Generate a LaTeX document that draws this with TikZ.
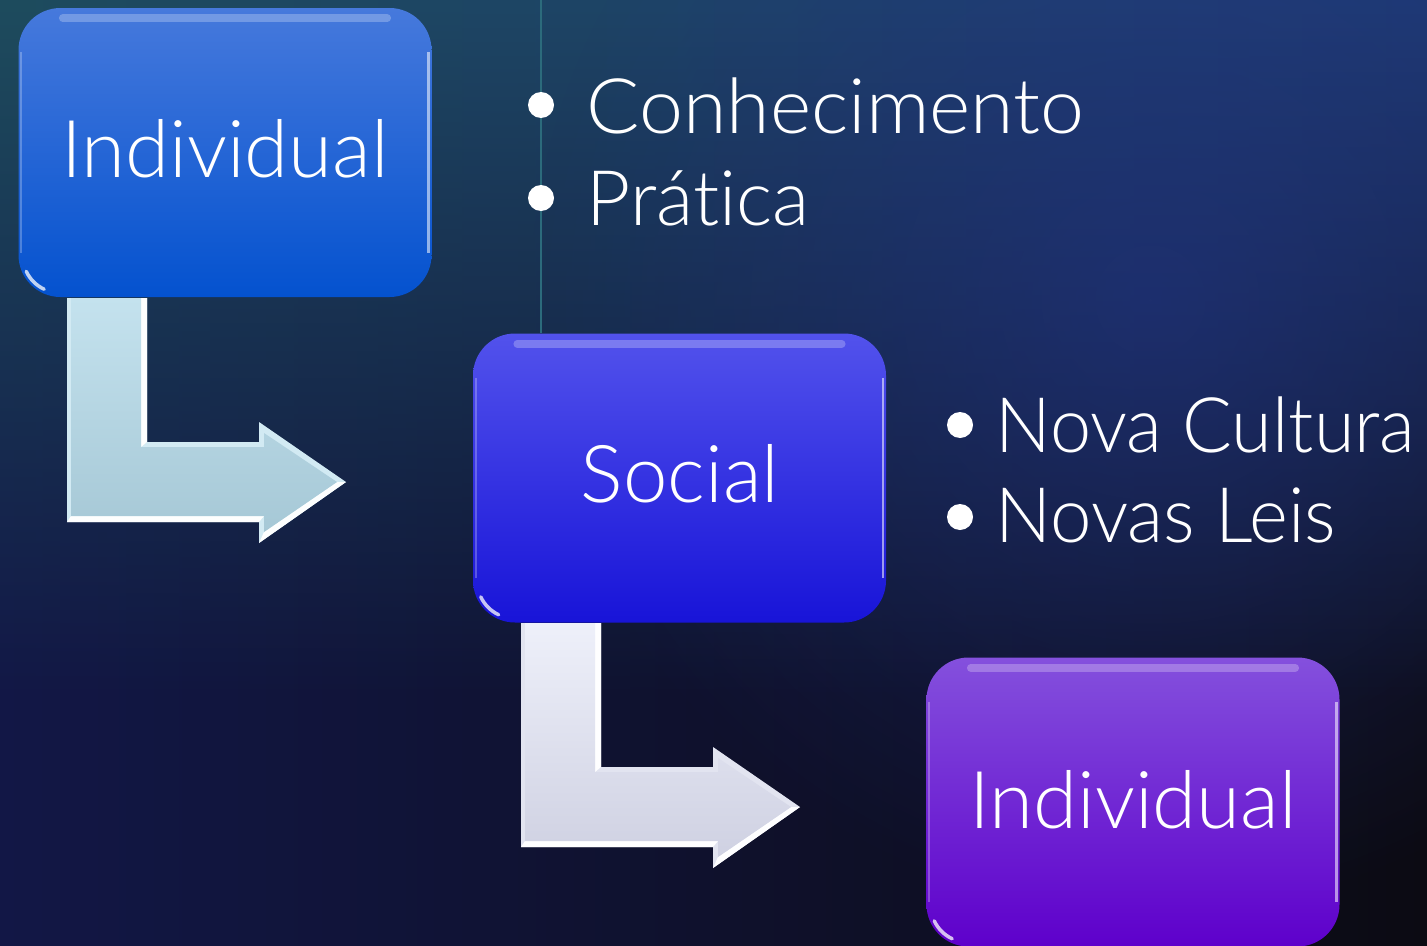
\documentclass[tikz,border=0pt]{standalone}
\usepackage{fontspec}
\setmainfont{Lato Light}[Ligatures=NoCommon]
\usetikzlibrary{fadings,calc}
\tikzfading[name=radfade, inner color=transparent!0, outer color=transparent!100]
\tikzfading[name=downfade, top color=transparent!0, bottom color=transparent!100]
\definecolor{bgdark}{HTML}{0C0B13}
\definecolor{bgnavy}{HTML}{121746}
\definecolor{bgteal}{HTML}{1E4C5E}
\definecolor{bgblue}{HTML}{1F3B72}
\definecolor{blob}{HTML}{22348A}
\definecolor{vline}{HTML}{2C6B7C}
\definecolor{bAt}{HTML}{4679DC}\definecolor{bAm}{HTML}{1C62DD}\definecolor{bAb}{HTML}{0452CF}
\definecolor{bBt}{HTML}{5252EC}\definecolor{bBm}{HTML}{2B28E6}\definecolor{bBb}{HTML}{1814D8}
\definecolor{bCt}{HTML}{8450DD}\definecolor{bCm}{HTML}{6A18D8}\definecolor{bCb}{HTML}{5E00CB}
\definecolor{aAt}{HTML}{C4E2EE}\definecolor{aAb}{HTML}{A6C8D6}\definecolor{aAm}{HTML}{D2EAF3}
\definecolor{aBt}{HTML}{EEF0FA}\definecolor{aBb}{HTML}{CFD1E2}\definecolor{aBm}{HTML}{E2E4F0}
\tikzset{
  box/.style={draw=none, rounded corners=4.2mm, minimum width=41.3mm, minimum height=28.9mm, inner sep=0pt},
  lbl/.style={text=white, inner sep=0pt, font=\fontsize{22.7pt}{27pt}\selectfont},
  blt/.style={text=white, inner sep=0pt, font=\fontsize{21.8pt}{26pt}\selectfont},
  dot/.style={circle, fill=white, minimum size=2.6mm, inner sep=0pt},
}
% #1 top colour, #2 bottom colour, #3 bevel tone
\newcommand\mybentarrow[3]{%
  \fill[#3] (67,298) -- (147,298) -- (147,442) -- (259,442) -- (259,422) -- (346,482) -- (259,543) -- (259,522) -- (67,522) -- cycle;
  \fill[white!97!#1] (147,298) -- (147,442) -- (141,447) -- (141,298) -- cycle;
  \fill[white!97!#1] (346,482) -- (259,543) -- (264,532) -- (337,482) -- cycle;
  \fill[white!97!#1] (259,522) -- (67,522) -- (71,516) -- (264,516) -- cycle;
  \shade[top color=#1, bottom color=#2] (71,298) -- (141,298) -- (141,447) -- (264,447) -- (264,433) -- (337,482) -- (264,532) -- (264,516) -- (71,516) -- cycle;
}
\begin{document}
\begin{tikzpicture}[x=0.1mm,y=-0.1mm]
\useasboundingbox (0,0) rectangle (1427,946);
% background
\shade[left color=bgnavy, right color=bgdark] (0,0) rectangle (1427,946);
\shade[left color=bgteal, right color=bgblue, path fading=downfade] (0,0) rectangle (1427,700);
\shade[inner color=blob, outer color=blob, path fading=radfade, opacity=0.55] (1150,300) circle (620);
\draw[vline, line width=0.35pt] (541,0) -- (541,333);
% boxes
\node[box, top color=bAt, middle color=bAm, bottom color=bAb] (b1) at (225,152.5) {};
\node[box, top color=bBt, middle color=bBm, bottom color=bBb] (b2) at (679.5,478) {};
\node[box, top color=bCt, middle color=bCm, bottom color=bCb] (b3) at (1133,802) {};
\foreach \b in {b1,b2,b3}{
  \draw[white, opacity=0.25, line width=2.2pt, line cap=round] ([xshift=4.5mm,yshift=-1.1mm]\b.north west) -- ([xshift=-4.5mm,yshift=-1.1mm]\b.north east);
  \draw[white, opacity=0.55, line width=0.7pt] ([xshift=-0.35mm,yshift=-4.5mm]\b.north east) -- ([xshift=-0.35mm,yshift=4.5mm]\b.south east);
  \draw[white, opacity=0.25, line width=0.6pt] ([xshift=0.35mm,yshift=-4.5mm]\b.north west) -- ([xshift=0.35mm,yshift=4.5mm]\b.south west);
  \draw[white, opacity=0.75, line width=1pt, line cap=round] ($(\b.south west)+(4.2mm,4.2mm)$) ++(205:3.7mm) arc[start angle=205, end angle=245, radius=3.7mm];
}
% bent arrows
\mybentarrow{aAt}{aAb}{aAm}
\begin{scope}[shift={(454,325)}]
\mybentarrow{aBt}{aBb}{aBm}
\end{scope}
% labels
\node[lbl, anchor=base] (t1) at (225,177) {Individual};
\node[lbl, anchor=base] (t2) at (680,502) {Social};
\node[lbl, anchor=base] (t3) at (1133,828) {Individual};
% bullets
\node[dot] (d1) at (541,105) {};
\node[dot] (d2) at (541,198) {};
\node[dot] (d3) at (960,425) {};
\node[dot] (d4) at (960,517) {};
\node[blt, anchor=base west] (p1) at (586,133) {\scalebox{1.03}[1]{Conhecimento}};
\node[blt, anchor=base west] (p2) at (586,225) {Prática};
\node[blt, anchor=base west] (p3) at (995,452) {\scalebox{0.963}[1]{Nova Cultura}};
\node[blt, anchor=base west] (p4) at (995,542) {\scalebox{0.97}[1]{Novas Leis}};
\end{tikzpicture}
\end{document}
